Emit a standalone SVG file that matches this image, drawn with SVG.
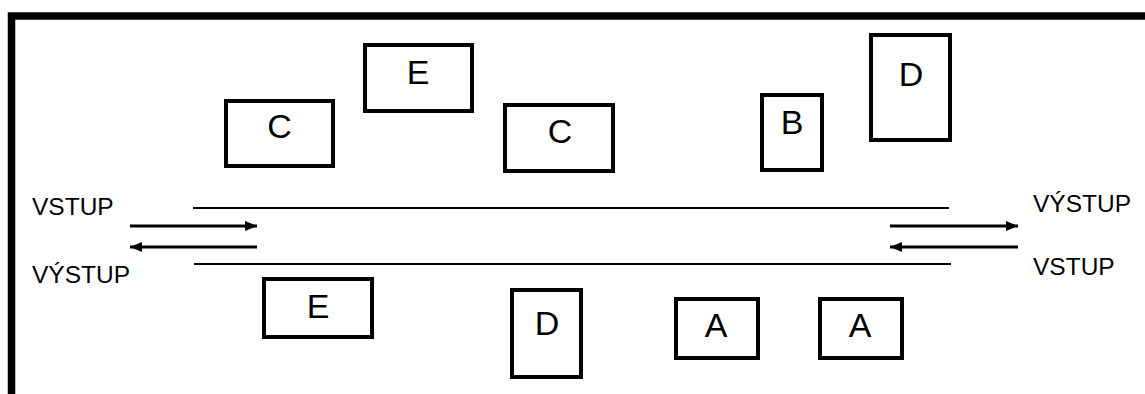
<svg xmlns="http://www.w3.org/2000/svg" width="1145" height="394" viewBox="0 0 1145 394">
  <style>
    .box { fill: #fff; stroke: #000; stroke-width: 4; }
    .lbl { font-family: "Liberation Sans", Arial, sans-serif; font-size: 34px; fill: #000; text-anchor: middle; }
    .io { font-family: "Liberation Sans", Arial, sans-serif; font-size: 24.5px; fill: #000; }
    .rail { stroke: #000; stroke-width: 2; fill: none; }
    .arr { stroke: #000; stroke-width: 3.2; fill: none; marker-end: url(#ah); }
    .frame { stroke: #000; stroke-width: 7.5; fill: none; }
  </style>
  <defs>
    <marker id="ah" markerUnits="userSpaceOnUse" markerWidth="13" markerHeight="11" refX="12" refY="5.5" orient="auto">
      <path d="M0,0.5 L12,5.5 L0,10.5 z" fill="#000"/>
    </marker>
  </defs>
  <rect width="1145" height="394" fill="#fff"/>
  <path class="frame" d="M11.5,394 V16 H1145"/>

  <g id="node-C1"><rect class="box" x="226" y="101" width="107" height="65"/><text class="lbl" x="279.5" y="138">C</text></g>
  <g id="node-E1"><rect class="box" x="365" y="45" width="107" height="66"/><text class="lbl" x="418" y="84">E</text></g>
  <g id="node-C2"><rect class="box" x="505" y="105" width="108" height="66"/><text class="lbl" x="560" y="143">C</text></g>
  <g id="node-B"><rect class="box" x="762" y="95" width="60" height="75"/><text class="lbl" x="792" y="134">B</text></g>
  <g id="node-D1"><rect class="box" x="871" y="35" width="79" height="105"/><text class="lbl" x="911" y="86">D</text></g>
  <g id="node-E2"><rect class="box" x="264" y="279" width="108" height="58"/><text class="lbl" x="318" y="318">E</text></g>
  <g id="node-D2"><rect class="box" x="512" y="290" width="69" height="87"/><text class="lbl" x="547" y="335">D</text></g>
  <g id="node-A1"><rect class="box" x="676" y="299" width="82" height="59"/><text class="lbl" x="716" y="337">A</text></g>
  <g id="node-A2"><rect class="box" x="820" y="299" width="82" height="59"/><text class="lbl" x="860" y="337">A</text></g>

  <g id="labels">
    <text class="io" x="32" y="215">VSTUP</text>
    <text class="io" x="32" y="283">VÝSTUP</text>
    <text class="io" x="1033" y="212">VÝSTUP</text>
    <text class="io" x="1033" y="275">VSTUP</text>
  </g>

  <g id="connectors">
    <line class="rail" x1="193" y1="208" x2="949" y2="208"/>
    <line class="rail" x1="194" y1="264" x2="951" y2="264"/>
    <line class="arr" x1="130" y1="226" x2="257" y2="226"/>
    <line class="arr" x1="257" y1="247" x2="130" y2="247"/>
    <line class="arr" x1="890" y1="226" x2="1018" y2="226"/>
    <line class="arr" x1="1018" y1="247" x2="890" y2="247"/>
  </g>
</svg>
